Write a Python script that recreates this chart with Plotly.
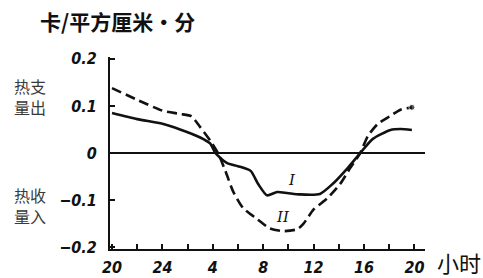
import plotly.graph_objects as go

# hours on a continuous axis: 20 (evening) ... 44 (= 20 h next day)
hours_I = [20, 22, 24, 25.4, 27, 27.8, 28.2, 29.1, 30, 31, 31.6, 32.3, 33.1, 33.9, 34.9, 36.5, 37.5, 38.7, 39.7, 40.7, 42.1, 42.9, 43.8]
flux_I = [0.085, 0.072, 0.062, 0.05, 0.033, 0.02, 0.0, -0.021, -0.028, -0.038, -0.066, -0.09, -0.083, -0.085, -0.088, -0.087, -0.066, -0.032, 0.0, 0.03, 0.049, 0.051, 0.049]

hours_II = [20, 22, 24, 25.4, 26.3, 27, 27.8, 28.4, 29, 29.6, 30.4, 31.5, 32.5, 33.6, 34.7, 35.2, 36, 37.1, 38.1, 38.9, 39.7, 40.3, 41.1, 42.1, 42.9, 43.8]
flux_II = [0.138, 0.113, 0.09, 0.083, 0.078, 0.055, 0.026, 0.0, -0.038, -0.081, -0.117, -0.14, -0.16, -0.166, -0.162, -0.15, -0.12, -0.096, -0.066, -0.032, 0.0, 0.036, 0.062, 0.079, 0.092, 0.097]

x_tick_vals = [20, 22, 24, 26, 28, 30, 32, 34, 36, 38, 40, 42, 44]
x_tick_text = ["20", "", "24", "", "4", "", "8", "", "12", "", "16", "", "20"]
y_tick_vals = [-0.2, -0.1, 0, 0.1, 0.2]
y_tick_text = ["−0.2", "−0.1", "0", "0.1", "0.2"]

INK = "#111111"
NUM_FONT = dict(family="DejaVu Sans Condensed, Liberation Sans Narrow, DejaVu Sans, sans-serif",
                size=16, color=INK, style="italic", weight="bold")
CJK = "Noto Sans CJK SC"
SIDE = dict(family=CJK, size=16, color="#3a3a3a")

fig = go.Figure()
fig.add_trace(go.Scatter(x=hours_I, y=flux_I, mode="lines",
                         line=dict(color=INK, width=2.6, shape="spline", smoothing=0.6),
                         showlegend=False, hoverinfo="skip"))
fig.add_trace(go.Scatter(x=hours_II, y=flux_II, mode="lines+markers",
                         line=dict(color=INK, width=2.6, dash="10px,5px", shape="spline", smoothing=0.6),
                         marker=dict(size=[0] * (len(hours_II) - 1) + [6], color=INK),
                         showlegend=False, hoverinfo="skip"))


def side_label(text, y):
    return dict(text=text, xref="paper", yref="paper", x=-0.254, y=y, align="center",
                xanchor="center", yanchor="middle", showarrow=False, font=SIDE)


fig.update_layout(
    width=483, height=278,
    margin=dict(l=110, r=58, t=57, b=29, autoexpand=False),
    paper_bgcolor="white", plot_bgcolor="white",
    xaxis=dict(range=[19.84, 44.84], tickvals=x_tick_vals, ticktext=x_tick_text,
               ticks="inside", ticklen=5, tickwidth=2, tickcolor=INK,
               showline=True, linecolor=INK, linewidth=2, automargin=False,
               showgrid=False, zeroline=False, tickfont=NUM_FONT, ticklabelstandoff=3),
    yaxis=dict(range=[-0.204, 0.204], tickvals=y_tick_vals, ticktext=y_tick_text,
               ticks="inside", ticklen=5, tickwidth=2, tickcolor=INK,
               showline=True, linecolor=INK, linewidth=2, automargin=False,
               showgrid=False, zeroline=True, zerolinecolor=INK, zerolinewidth=2,
               tickfont=NUM_FONT, ticklabelstandoff=8),
    annotations=[
        dict(text="<b>卡/平方厘米•分</b>", xref="paper", yref="paper", x=-0.229, y=1.1875,
             xanchor="left", yanchor="middle",
             showarrow=False, font=dict(family=CJK, size=21, color=INK)),
        side_label("热支<br>量出", 0.792),
        side_label("热收<br>量入", 0.224),
        dict(text="小时", xref="paper", yref="paper", x=1.032, y=-0.068,
             xanchor="left", yanchor="middle",
             showarrow=False, font=dict(family=CJK, size=22, color=INK)),
        dict(text="I", x=34.3, y=-0.057, showarrow=False,
             font=dict(family="DejaVu Serif, serif", size=15, color=INK, style="italic")),
        dict(text="II", x=33.6, y=-0.135, showarrow=False,
             font=dict(family="DejaVu Serif, serif", size=15, color=INK, style="italic")),
    ],
)

fig.write_html("out.html", config={"displayModeBar": False},
               post_script="document.body.style.margin='0';document.body.style.padding='0';")
